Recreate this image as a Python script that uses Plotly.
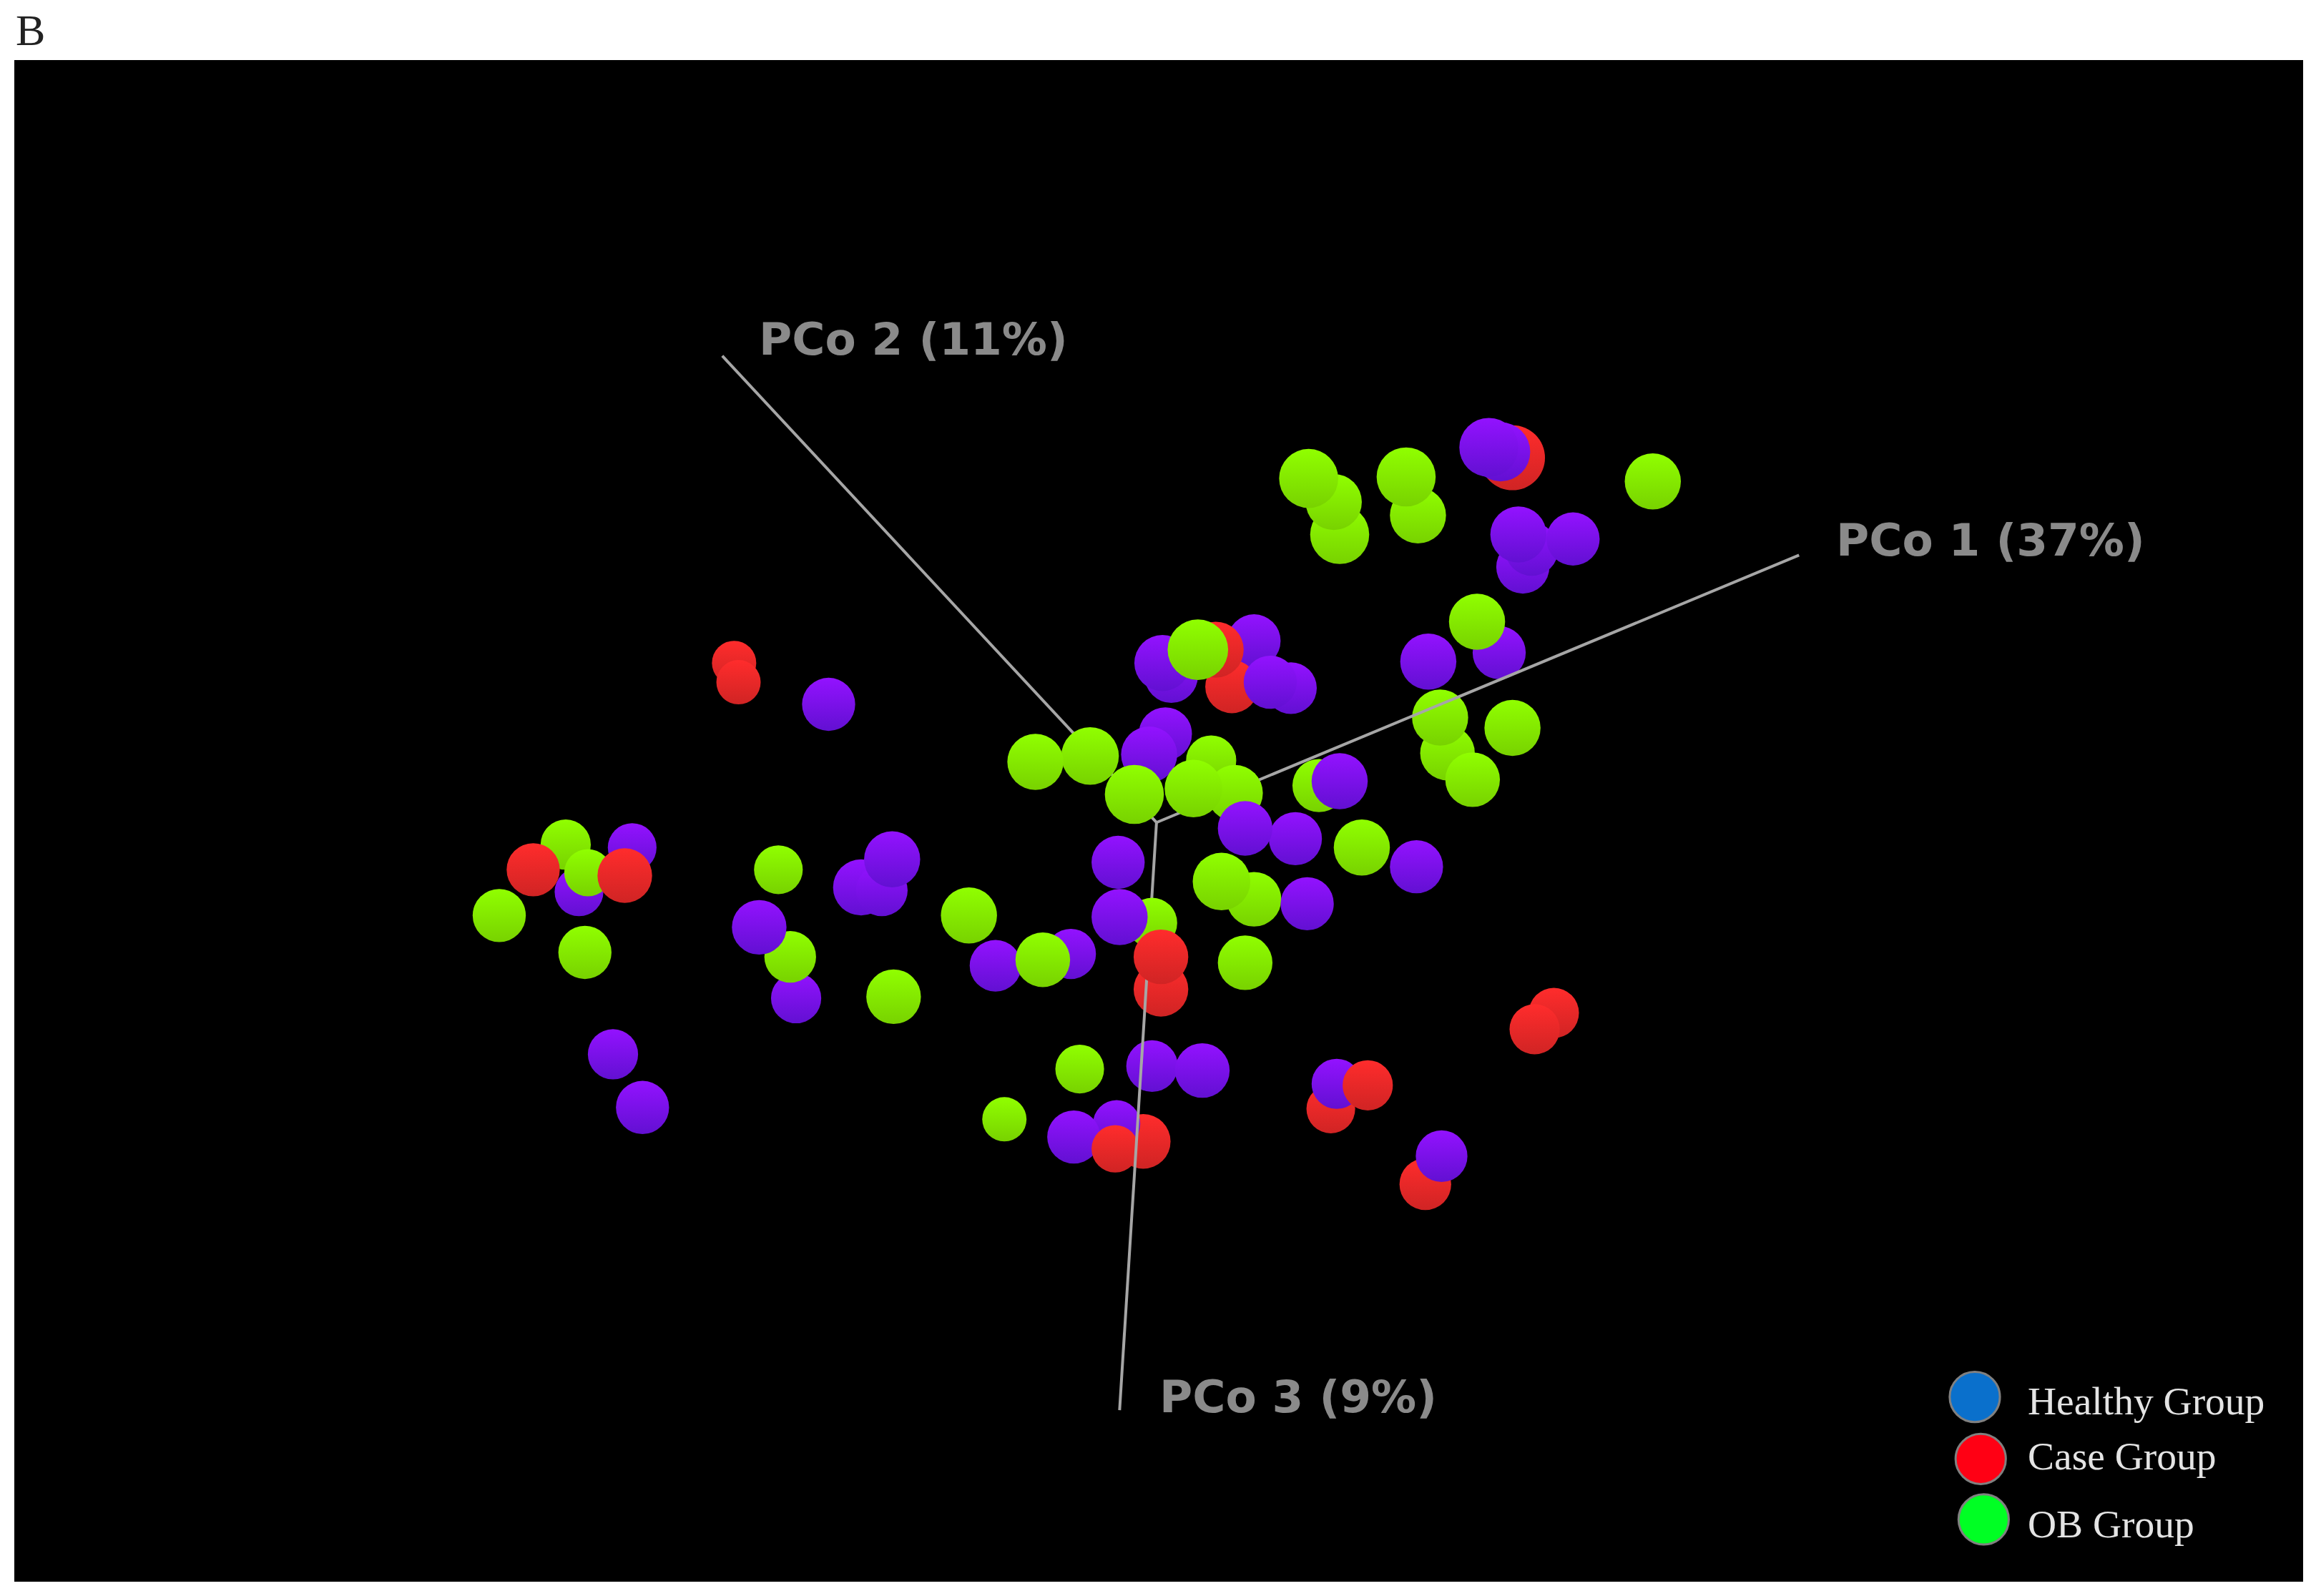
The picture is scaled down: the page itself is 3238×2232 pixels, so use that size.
import plotly.graph_objects as go

# Projected PCoA positions (screen units of the 3-D view), ordered back to front.
# Spheres drawn behind the axis lines
back_x = [1015, 980, 975, 786, 774, 756, 727, 755, 780]
back_y = [442, 510, 486, 670, 773, 761, 770, 778, 722]
back_d = [36, 37, 38, 37, 37, 32, 36, 32, 35]
back_group = ["H", "O", "O", "C", "C", "H", "H", "C", "H"]

# Spheres drawn in front of the axis lines
front_x = [1024, 1016, 1008, 1031, 1037, 1065, 1028, 907, 903, 886,
           960, 952, 1119, 967, 1000, 1024, 997, 793, 787, 849,
           834, 823, 811, 874, 860, 820, 789, 778, 836, 738,
           701, 808, 768, 877, 843, 893, 907, 922, 959, 849,
           827, 885, 757, 780, 786, 758, 843, 725, 674, 706,
           428, 383, 392, 398, 361, 423, 338, 396, 527, 583,
           597, 604, 539, 535, 514, 656, 605, 415, 435, 497,
           500, 561, 731, 680, 814, 901, 905, 926, 965, 976,
           1052, 1039]
front_y = [310, 306, 303, 384, 372, 365, 362, 362, 340, 324,
           349, 323, 326, 448, 421, 493, 528, 458, 449, 434,
           465, 440, 440, 466, 462, 515, 497, 511, 537, 512,
           516, 534, 538, 568, 561, 532, 529, 574, 587, 609,
           597, 612, 584, 625, 648, 621, 652, 646, 654, 650,
           574, 572, 604, 591, 589, 593, 620, 645, 589, 601,
           603, 582, 676, 648, 628, 620, 675, 714, 750, 449,
           462, 477, 724, 758, 725, 751, 734, 735, 802, 783,
           686, 697]
front_d = [44, 40, 40, 36, 36, 36, 38, 40, 38, 40,
           38, 40, 38, 38, 38, 38, 37, 36, 38, 36,
           36, 38, 41, 35, 36, 34, 36, 38, 38, 39,
           38, 39, 40, 36, 37, 36, 38, 38, 36, 37,
           39, 36, 36, 34, 37, 38, 37, 34, 35, 37,
           33, 34, 33, 32, 36, 37, 36, 36, 33, 38,
           35, 38, 34, 35, 37, 38, 37, 34, 36, 30,
           30, 36, 33, 30, 37, 33, 34, 34, 35, 35,
           34, 34]
front_group = ["C", "H", "H", "H", "H", "H", "H", "O", "O", "O",
               "O", "O", "O", "H", "O", "O", "O", "H", "H", "H",
               "C", "C", "O", "H", "H", "O", "H", "H", "O", "O",
               "O", "O", "O", "H", "H", "O", "H", "O", "H", "O",
               "O", "H", "H", "O", "C", "H", "O", "H", "H", "O",
               "H", "O", "H", "O", "C", "C", "O", "O", "O", "H",
               "H", "H", "H", "O", "H", "O", "O", "H", "H", "C",
               "C", "H", "O", "O", "H", "C", "H", "C", "C", "H",
               "C", "C"]

group_names = {"H": "Healthy Group", "C": "Case Group", "O": "OB Group"}
sphere_top = {"H": "#9312FF", "C": "#FF2C2C", "O": "#90FF00"}
sphere_bottom = {"H": "#6210D2", "C": "#D02424", "O": "#78D200"}

# Axis lines
origin = (783, 557)
axis_labels = ["PCo 1 (37%)", "PCo 2 (11%)", "PCo 3 (9%)"]
axis_end_x = [1218, 489, 758]
axis_end_y = [376, 241, 955]
label_x = [1242, 513, 784]
label_y = [366, 230, 946]

# Legend
legend_labels = ["Healthy Group", "Case Group", "OB Group"]
legend_dot_x = [1337, 1341, 1343]
legend_dot_y = [946, 988, 1029]
legend_text_y = [949, 986, 1032]
legend_colors = ["#0A70CC", "#FF0014", "#00FF24"]

K = 3200 / 1549.6  # screen units to page pixels


def spheres(xs, ys, ds, gs):
    return go.Scatter(
        x=xs, y=ys, mode="markers", showlegend=False,
        text=[group_names[g] for g in gs], hoverinfo="text",
        marker=dict(
            size=[d * K for d in ds],
            opacity=1,
            color=[sphere_top[g] for g in gs],
            gradient=dict(type="vertical", color=[sphere_bottom[g] for g in gs]),
            line=dict(width=0),
        ),
    )


fig = go.Figure()
fig.add_trace(spheres(back_x, back_y, back_d, back_group))
for name, ex, ey in zip(axis_labels, axis_end_x, axis_end_y):
    fig.add_trace(go.Scatter(
        x=[origin[0], ex], y=[origin[1], ey], mode="lines", name=name,
        showlegend=False, hoverinfo="name",
        line=dict(color="#A6A6A6", width=4),
    ))
fig.add_trace(spheres(front_x, front_y, front_d, front_group))
fig.add_trace(go.Scatter(
    x=legend_dot_x, y=legend_dot_y, mode="markers", showlegend=False,
    text=legend_labels, hoverinfo="text",
    marker=dict(size=34 * K, opacity=1, color=legend_colors,
                line=dict(color="#808080", width=3)),
))

annotations = []
for t, x, y in zip(axis_labels, label_x, label_y):
    annotations.append(dict(
        x=x, y=y, text=f"<b>{t}</b>", showarrow=False, xanchor="left", yanchor="middle",
        font=dict(family="DejaVu Sans", size=63, color="#8A8A8A"),
    ))
for t, y in zip(legend_labels, legend_text_y):
    annotations.append(dict(
        x=1372, y=y, text=t, showarrow=False, xanchor="left", yanchor="middle",
        font=dict(family="Liberation Serif", size=55.5, color="#E4E4E4"),
    ))
annotations.append(dict(
    xref="paper", yref="paper", x=0, y=1.0, yshift=6, text="B", showarrow=False,
    xanchor="left", yanchor="bottom",
    font=dict(family="Liberation Serif", size=62, color="#222222"),
))

# The page keeps an 8 px body margin, so the figure is 16 px smaller than the window.
fig.update_layout(
    width=3222, height=2216, autosize=False,
    margin=dict(l=12, r=10, t=76, b=12),
    paper_bgcolor="white", plot_bgcolor="black",
    xaxis=dict(range=[20 / K, 3220 / K], visible=False),
    yaxis=dict(range=[2212 / K, 84 / K], visible=False),
    annotations=annotations,
    showlegend=False,
)
fig.write_html("out.html", config={"displayModeBar": False})
